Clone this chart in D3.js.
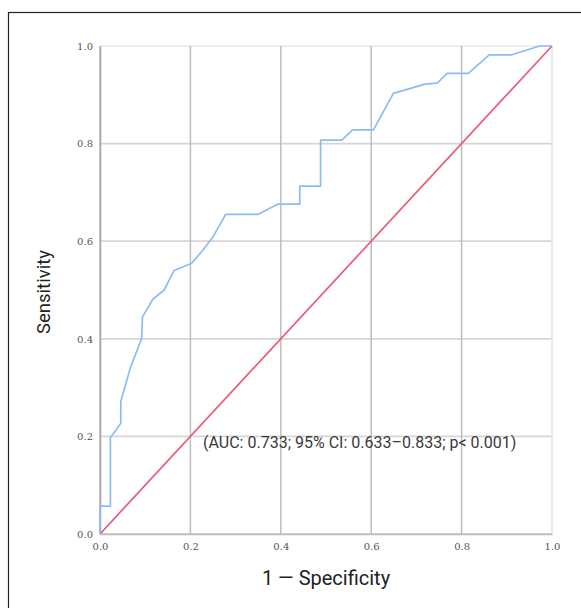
<!DOCTYPE html>
<html>
<head>
<meta charset="utf-8">
<script src="https://cdn.jsdelivr.net/npm/d3@7"></script>
<style>
  body { margin: 0; background: #fff; }
</style>
</head>
<body>
<div class="canvas"></div>
<script>
// ROC curve points (1 - specificity, sensitivity)
const fpr = [0, 0, 0.023, 0.023, 0.046, 0.046, 0.068, 0.092, 0.094, 0.117, 0.142, 0.164, 0.203, 0.228, 0.25, 0.278, 0.35, 0.394, 0.442, 0.442, 0.488, 0.488, 0.535, 0.559, 0.605, 0.649, 0.719, 0.746, 0.768, 0.815, 0.861, 0.911, 0.973, 1]
const tpr = [0, 0.057, 0.057, 0.197, 0.227, 0.272, 0.343, 0.40, 0.445, 0.481, 0.50, 0.54, 0.555, 0.582, 0.609, 0.655, 0.655, 0.676, 0.676, 0.713, 0.713, 0.807, 0.807, 0.828, 0.828, 0.903, 0.922, 0.924, 0.944, 0.944, 0.982, 0.982, 1.0, 1]
const refLine = [0, 1]
const ticks = [0, 0.2, 0.4, 0.6, 0.8, 1.0]
const annotation = '(AUC: 0.733; 95% CI: 0.633\u20130.833; p< 0.001)'

const width = 581
const height = 608

const svg = d3.select('.canvas').append('svg')
    .attr('width', width)
    .attr('height', height)

// outer frame (only top and left edges are inside the picture)
svg.append('rect')
    .attr('x', 8.5)
    .attr('y', 12.5)
    .attr('width', 600)
    .attr('height', 620)
    .attr('fill', 'none')
    .attr('stroke', '#222')
    .attr('stroke-width', 1.2)

const margin = { top: 46, left: 100 }
const graphWidth = 452
const graphHeight = 488

const graph = svg.append('g')
    .attr('transform', `translate(${margin.left}, ${margin.top})`)

const x = d3.scaleLinear().domain([0, 1]).range([0, graphWidth])
const y = d3.scaleLinear().domain([0, 1]).range([graphHeight, 0])

// grid
graph.selectAll('.hgrid')
    .data(ticks)
    .enter()
    .append('line')
    .attr('x1', 0)
    .attr('x2', graphWidth)
    .attr('y1', (d) => y(d))
    .attr('y2', (d) => y(d))
    .attr('stroke', (d) => d === 1 ? '#eee' : '#d6d6d6')
    .attr('stroke-width', 1.8)

graph.selectAll('.vgrid')
    .data(ticks)
    .enter()
    .append('line')
    .attr('x1', (d) => x(d))
    .attr('x2', (d) => x(d))
    .attr('y1', 0)
    .attr('y2', graphHeight)
    .attr('stroke', (d) => d === 1 ? '#e4e4e4' : '#bdbdbd')
    .attr('stroke-width', 1.5)

// axes
const xAxis = d3.axisBottom(x).tickValues(ticks).tickSize(0).tickPadding(9).tickFormat(d3.format('.1f'))
const yAxis = d3.axisLeft(y).tickValues(ticks).tickSize(0).tickPadding(7).tickFormat(d3.format('.1f'))

const xAxisGroup = graph.append('g')
    .attr('transform', `translate(0, ${graphHeight})`)
    .call(xAxis)
const yAxisGroup = graph.append('g').call(yAxis)

xAxisGroup.select('.domain').attr('stroke', '#bbb').attr('stroke-width', 1.6)
yAxisGroup.select('.domain').attr('stroke', '#aaa').attr('stroke-width', 1.6)

graph.selectAll('.tick text')
    .attr('font-family', 'DejaVu Serif, serif')
    .attr('font-size', 10)
    .attr('fill', '#555')

// reference diagonal
graph.append('line')
    .attr('x1', x(refLine[0]))
    .attr('y1', y(refLine[0]))
    .attr('x2', x(refLine[1]))
    .attr('y2', y(refLine[1]))
    .attr('stroke', '#ea5a78')
    .attr('stroke-width', 1.7)

// roc curve
const line = d3.line()
    .x((d) => x(d[0]))
    .y((d) => y(d[1]))

graph.append('path')
    .datum(d3.zip(fpr, tpr))
    .attr('d', line)
    .attr('fill', 'none')
    .attr('stroke', '#8dbcf2')
    .attr('stroke-width', 1.7)
    .attr('stroke-linejoin', 'round')

// annotation
graph.append('text')
    .attr('x', x(0.228))
    .attr('y', y(0.2) + 12)
    .attr('font-family', 'Roboto, sans-serif')
    .attr('font-size', 16)
    .attr('fill', '#3a3a3a')
    .text(annotation)

// axis titles
svg.append('text')
    .attr('x', 326)
    .attr('y', 585)
    .attr('text-anchor', 'middle')
    .attr('font-family', 'Roboto, sans-serif')
    .attr('font-size', 20)
    .attr('fill', '#222')
    .text('1 \u2014 Specificity')

svg.append('text')
    .attr('transform', 'translate(50, 292) rotate(-90)')
    .attr('text-anchor', 'middle')
    .attr('font-family', 'Roboto, sans-serif')
    .attr('font-size', 18.5)
    .attr('fill', '#222')
    .text('Sensitivity')
</script>
</body>
</html>
